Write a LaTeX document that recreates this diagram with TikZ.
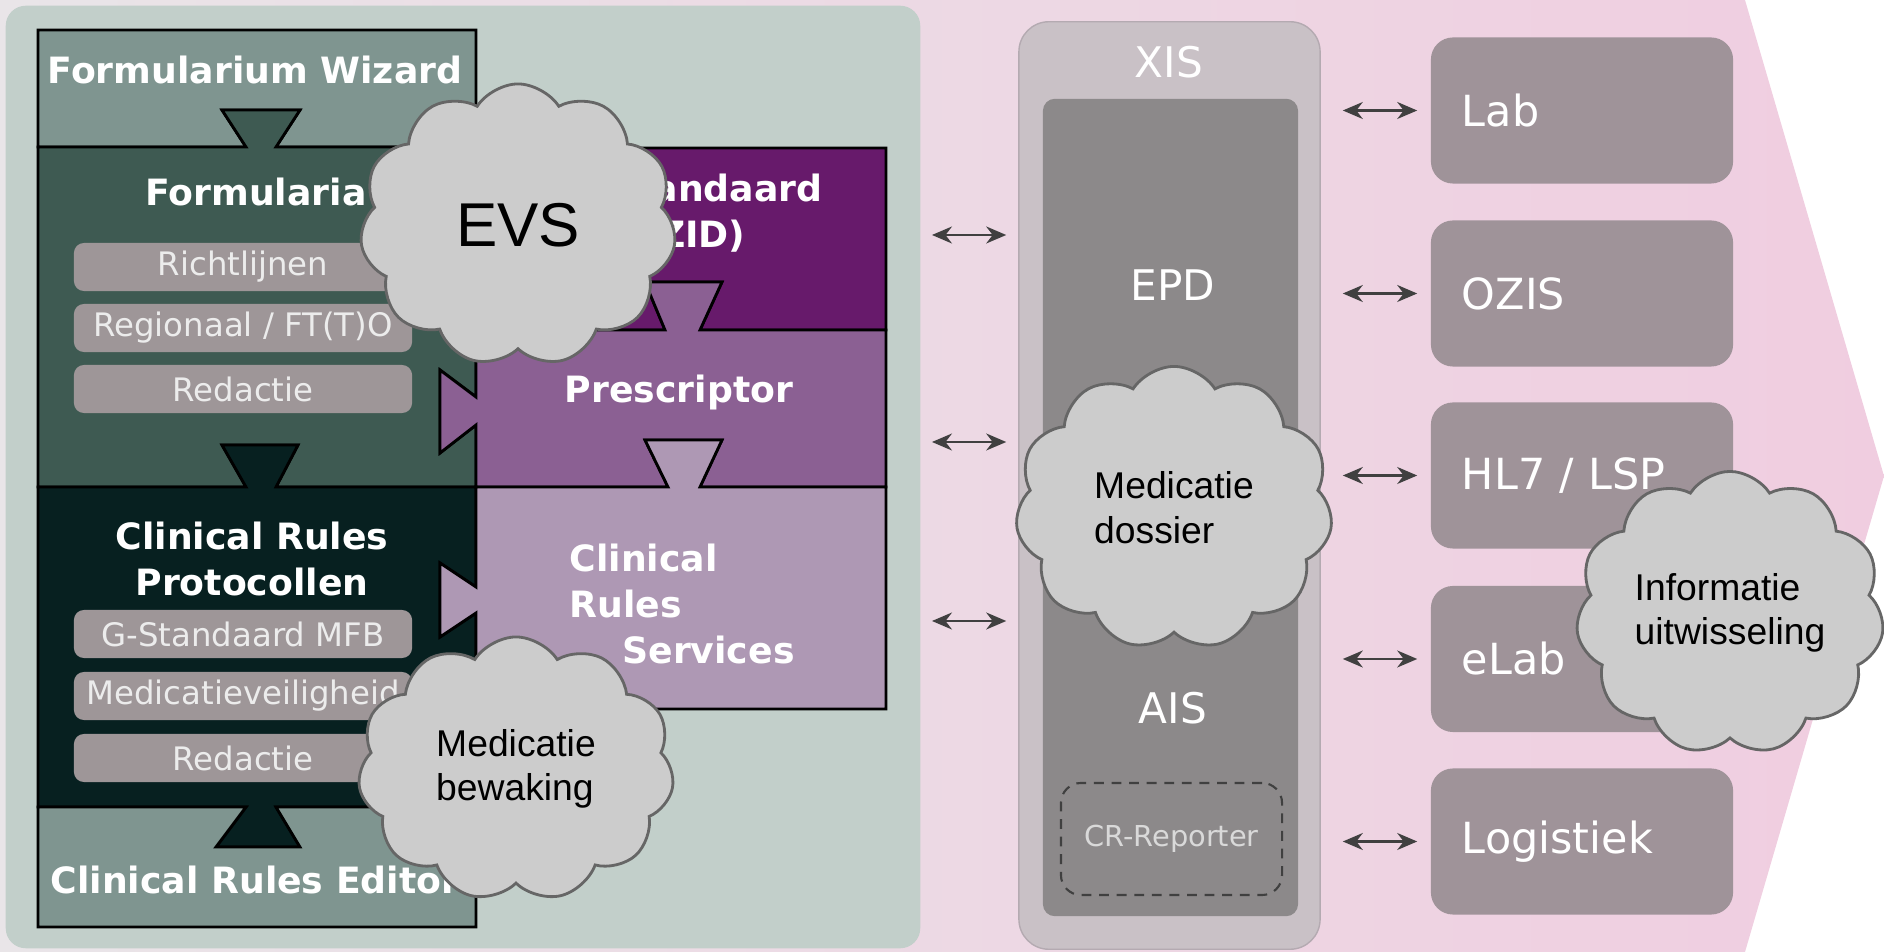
\documentclass[tikz,border=0pt]{standalone}
\usepackage{fontspec}
\setmainfont{DejaVu Sans}
\newfontfamily\cloudfont{Liberation Sans}
\usetikzlibrary{shapes.symbols,arrows.meta}

\definecolor{bgleft}{RGB}{233,229,232}
\definecolor{bgright}{RGB}{240,205,224}
\definecolor{paneelkleur}{RGB}{194,207,202}
\definecolor{wizardkleur}{RGB}{127,149,144}
\definecolor{formkleur}{RGB}{62,90,82}
\definecolor{protkleur}{RGB}{7,32,32}
\definecolor{gstdkleur}{RGB}{103,26,107}
\definecolor{preskleur}{RGB}{139,96,147}
\definecolor{crskleur}{RGB}{174,152,180}
\definecolor{itemkleur}{RGB}{158,150,152}
\definecolor{itemtekst}{RGB}{236,236,236}
\definecolor{xisbuiten}{RGB}{201,193,198}
\definecolor{xisrand}{RGB}{180,170,177}
\definecolor{xisbinnen}{RGB}{140,137,138}
\definecolor{extkleur}{RGB}{159,147,153}
\definecolor{wolkkleur}{RGB}{204,204,204}
\definecolor{wolkrand}{RGB}{102,102,102}

\begin{document}
\begin{tikzpicture}[x=0.01cm,y=-0.01cm]
\tikzstyle{blok} = [draw=black, line width=0.8pt, line join=miter]
\tikzstyle{title} = [text=white, font=\bfseries\fontsize{10.3}{13}\selectfont, align=center, inner sep=0]
\tikzstyle{item} = [fill=itemkleur, rounded corners=0.1cm, text=itemtekst, minimum width=3.38cm, minimum height=0.48cm, inner sep=0, font=\fontsize{9.2}{11}\selectfont]
\tikzstyle{xistekst} = [text=white, font=\fontsize{12}{14}\selectfont, inner sep=0]
\tikzstyle{extbox} = [fill=extkleur, rounded corners=0.22cm, minimum width=3.02cm, minimum height=1.46cm, text width=2.4cm, inner xsep=0.31cm, align=left, text=white, font=\fontsize{12.2}{14}\selectfont]
\tikzstyle{dubbel} = [{Stealth[length=0.2cm,width=0.17cm]}-{Stealth[length=0.2cm,width=0.17cm]}, line width=0.6pt, draw=black!75]
\tikzstyle{wolk} = [cloud, cloud puffs=11, cloud puff arc=115, aspect=1.1, fill=wolkkleur, draw=wolkrand, line width=0.8pt, inner sep=0, align=left, font=\cloudfont\fontsize{10.6}{12.7}\selectfont]

\useasboundingbox (0,0) rectangle (1884,952);
\shade[left color=bgleft, right color=bgright] (0,0) -- (1745,0) -- (1884,476) -- (1745,952) -- (0,952) -- cycle;
\node[fill=paneelkleur, rounded corners=0.2cm, minimum width=9.14cm, minimum height=9.42cm] (paneel) at (463,477) {};

% linker kolom
\filldraw[blok, fill=wizardkleur] (38,30) -- (476,30) -- (476,147) -- (276,147) -- (300,110) -- (222,110) -- (246,147) -- (38,147) -- cycle;
\filldraw[blok, fill=formkleur] (38,147) -- (246,147) -- (222,110) -- (300,110) -- (276,147) -- (476,147) -- (476,397) -- (440,370) -- (440,453) -- (476,425) -- (476,487) -- (276,487) -- (298,445) -- (222,445) -- (246,487) -- (38,487) -- cycle;
\filldraw[blok, fill=protkleur] (38,487) -- (246,487) -- (222,445) -- (298,445) -- (276,487) -- (476,487) -- (476,587) -- (440,563) -- (440,637) -- (476,613) -- (476,807) -- (276,807) -- (300,847) -- (216,847) -- (246,807) -- (38,807) -- cycle;
\filldraw[blok, fill=wizardkleur] (38,807) -- (246,807) -- (216,847) -- (300,847) -- (276,807) -- (476,807) -- (476,927) -- (38,927) -- cycle;

% rechter kolom
\filldraw[blok, fill=gstdkleur] (476,148) -- (886,148) -- (886,330) -- (700,330) -- (722,282) -- (645,282) -- (665,330) -- (476,330) -- cycle;
\filldraw[blok, fill=preskleur] (476,330) -- (665,330) -- (645,282) -- (722,282) -- (700,330) -- (886,330) -- (886,487) -- (700,487) -- (722,440) -- (645,440) -- (668,487) -- (476,487) -- (476,425) -- (440,453) -- (440,370) -- (476,397) -- cycle;
\filldraw[blok, fill=crskleur] (476,487) -- (668,487) -- (645,440) -- (722,440) -- (700,487) -- (886,487) -- (886,709) -- (476,709) -- (476,613) -- (440,637) -- (440,563) -- (476,587) -- cycle;

\node[title] (tWizard) at (255,70) {Formularium Wizard};
\node[title] (tFormularia) at (256,192) {Formularia};
\node[title] (tProtocollen) at (252,559) {Clinical Rules\\Protocollen};
\node[title] (tEditor) at (255,880) {Clinical Rules Editor};
\node[title] (tGstandaard) at (694,213) {G-Standaard\\(ZID)};
\node[title] (tPrescriptor) at (679,393) {Prescriptor};
\node[title, align=left, anchor=west] (tServices) at (569,604) {Clinical\\Rules\\\hspace{15pt}Services};

\foreach \naam/\y/\tekst in {richtlijnen/267/Richtlijnen, regionaal/328/{Regionaal / FT(T)O}, redactieA/389/Redactie, mfb/634/{G-Standaard MFB}, veiligheid/696/Medicatieveiligheid, redactieB/758/Redactie}
\node[item] (\naam) at (243,\y) {\tekst};

% XIS
\node[fill=xisbuiten, draw=xisrand, rounded corners=0.3cm, minimum width=3.01cm, minimum height=9.27cm] (xis) at (1169.5,485.5) {};
\node[fill=xisbinnen, rounded corners=0.12cm, minimum width=2.55cm, minimum height=8.17cm] (kern) at (1170.5,507.5) {};
\node[xistekst] (tXIS) at (1169,62) {XIS};
\node[xistekst] (tEPD) at (1173,285) {EPD};
\node[xistekst] (tAIS) at (1173,708) {AIS};
\node[draw=black!75, dashed, dash pattern=on 2.8pt off 2.2pt, line width=0.6pt, rounded corners=0.2cm, minimum width=2.21cm, minimum height=1.12cm, text=black!15, font=\fontsize{8.2}{10}\selectfont] (reporter) at (1171.5,839) {CR-Reporter};

\foreach \naam/\y/\tekst in {lab/110.5/Lab, ozis/293.5/OZIS, hl7/475.5/{HL7 / LSP}, elab/659/eLab, logistiek/841.5/Logistiek}
\node[extbox] (\naam) at (1582,\y) {\tekst};

\foreach \naar in {lab, ozis, hl7, elab, logistiek}
\draw [dubbel][shorten <=0.22cm, shorten >=0.13cm] (xis.east |- \naar.west) -- (\naar.west);
\foreach \y in {235, 442, 621}
\draw [dubbel][shorten <=0.11cm, shorten >=0.12cm] (paneel.east |- 0,\y) -- (xis.west |- 0,\y);

% wolken
\node[wolk, minimum width=3.16cm, minimum height=2.82cm, font=\cloudfont\fontsize{17.6}{21}\selectfont] (evs) at (518,225) {EVS};
\node[wolk, minimum width=3.16cm, minimum height=2.64cm] (bewaking) at (516,769) {Medicatie\\bewaking};
\node[wolk, minimum width=3.17cm, minimum height=2.83cm] (dossier) at (1174,508) {Medicatie\\dossier};
\node[wolk, minimum width=3.08cm, minimum height=2.83cm] (uitwisseling) at (1730,613) {Informatie\\uitwisseling};

\end{tikzpicture}
\end{document}
